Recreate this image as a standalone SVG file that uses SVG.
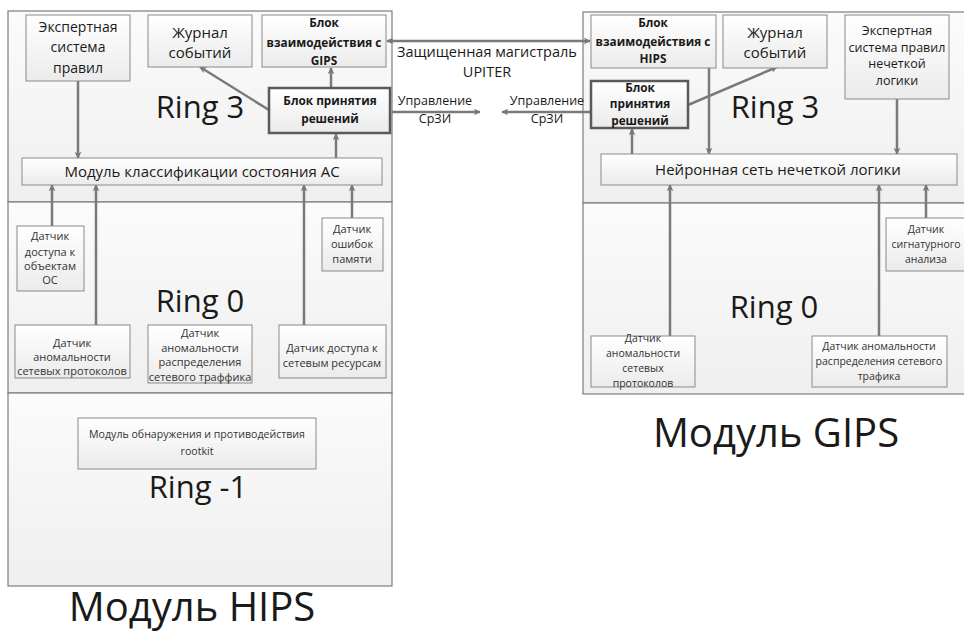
<svg xmlns="http://www.w3.org/2000/svg" width="964" height="633" viewBox="0 0 964 633">
<defs>
<linearGradient id="gBox" x1="0" y1="0" x2="0" y2="1"><stop offset="0" stop-color="#ffffff"/><stop offset="1" stop-color="#ebebeb"/></linearGradient>
<linearGradient id="gPanel" x1="0" y1="0" x2="0" y2="1"><stop offset="0" stop-color="#fbfbfb"/><stop offset="1" stop-color="#efefef"/></linearGradient>
<marker id="ah" viewBox="0 0 10 10" refX="9" refY="5" markerWidth="7" markerHeight="7" markerUnits="userSpaceOnUse" orient="auto-start-reverse"><path d="M0,0 L10,5 L0,10 L3,5 Z" fill="#777"/></marker>
<style>
.panel{fill:url(#gPanel);stroke:#7d7d7d;stroke-width:1.2}
.box{fill:url(#gBox);stroke:#8a8a8a;stroke-width:1}
.dec{fill:url(#gBox);stroke:#5a5a5a;stroke-width:2.5}
text{font-family:"Open Sans","DejaVu Sans",sans-serif;fill:#1a1a1a;text-anchor:middle}
.t16{font-size:15px}
.t15{font-size:14px}
.t14{font-size:12.5px}
.tb{font-size:11.8px;font-weight:bold}
.t12{font-size:11px;fill:#333}
.t11{font-size:10.5px;fill:#333}
.t10{font-size:10.6px;fill:#333}
.ring{font-size:31px}
.big{font-size:40px}
.lbl{font-size:14.5px}
.con{stroke:#7a7a7a;stroke-width:2.5;fill:none;marker-end:url(#ah)}
.bi{marker-start:url(#ah)}
</style>
</defs>

<g id="panels">
<rect class="panel" x="8" y="11" width="384" height="191"/>
<rect class="panel" x="8" y="202" width="384" height="191"/>
<rect class="panel" x="8" y="393" width="384" height="193"/>
<rect class="panel" x="583" y="12" width="385" height="191"/>
<rect class="panel" x="583" y="203" width="385" height="191"/>
<text class="ring" x="200" y="118">Ring 3</text>
<text class="ring" x="200" y="312">Ring 0</text>
<text class="ring" x="198" y="498">Ring -1</text>
<text class="ring" x="775" y="118">Ring 3</text>
<text class="ring" x="774" y="318">Ring 0</text>
<text class="big" x="192" y="621">Модуль HIPS</text>
<text class="big" x="776" y="447">Модуль GIPS</text>
</g>

<g id="connectors">
<line class="con" x1="78" y1="81" x2="78" y2="158"/>
<line class="con" x1="269" y1="110" x2="200" y2="67"/>
<line class="con" x1="331" y1="88" x2="331" y2="68"/>
<line class="con" x1="336" y1="158" x2="336" y2="134"/>
<line class="con" x1="52" y1="226" x2="52" y2="185"/>
<line class="con" x1="96" y1="325" x2="96" y2="185"/>
<line class="con" x1="304" y1="325" x2="304" y2="185"/>
<line class="con" x1="352" y1="218" x2="352" y2="185"/>
<line class="con bi" x1="387" y1="41" x2="590" y2="41"/>
<line class="con" x1="392" y1="112" x2="480" y2="112"/>
<line class="con" x1="591" y1="112" x2="502" y2="112"/>
<line class="con" x1="709" y1="68" x2="709" y2="154"/>
<line class="con" x1="688" y1="105" x2="777" y2="67"/>
<line class="con" x1="632" y1="154" x2="632" y2="129"/>
<line class="con" x1="897" y1="99" x2="897" y2="154"/>
<line class="con" x1="670" y1="336" x2="670" y2="185"/>
<line class="con" x1="879" y1="336" x2="879" y2="185"/>
<line class="con" x1="926" y1="218" x2="926" y2="185"/>
<text class="lbl" x="487" y="57">Защищенная магистраль</text>
<text class="lbl" x="487" y="77">UPITER</text>
<text class="t14" x="435" y="105">Управление</text>
<text class="t14" x="435" y="123">СрЗИ</text>
<text class="t14" x="547" y="105">Управление</text>
<text class="t14" x="547" y="123">СрЗИ</text>
</g>

<g id="h-expert">
<rect class="box" x="26" y="15" width="104" height="66"/>
<text class="t15" x="78" y="32">Экспертная</text>
<text class="t15" x="78" y="52">система</text>
<text class="t15" x="78" y="73">правил</text>
</g>
<g id="h-journal">
<rect class="box" x="148" y="15" width="104" height="52"/>
<text class="t16" x="200" y="38">Журнал</text>
<text class="t16" x="200" y="58">событий</text>
</g>
<g id="h-gips">
<rect class="box" x="262" y="15" width="124" height="52"/>
<text class="tb" x="324" y="27">Блок</text>
<text class="tb" x="324" y="47">взаимодействия с</text>
<text class="tb" x="324" y="65">GIPS</text>
</g>
<g id="h-decision">
<rect class="dec" x="269" y="88" width="121" height="45"/>
<text class="tb" x="330" y="105">Блок принятия</text>
<text class="tb" x="330" y="123">решений</text>
</g>
<g id="h-classify">
<rect class="box" x="22" y="158" width="360" height="27"/>
<text class="t16" x="202" y="177">Модуль классификации состояния АС</text>
</g>
<g id="h-s-os">
<rect class="box" x="17" y="226" width="67" height="65"/>
<text class="t12" x="50" y="240">Датчик</text>
<text class="t12" x="50" y="256">доступа к</text>
<text class="t12" x="50" y="270">объектам</text>
<text class="t12" x="50" y="284">ОС</text>
</g>
<g id="h-s-mem">
<rect class="box" x="322" y="218" width="61" height="53"/>
<text class="t12" x="352" y="233">Датчик</text>
<text class="t12" x="352" y="248">ошибок</text>
<text class="t12" x="352" y="263">памяти</text>
</g>
<g id="h-s-proto">
<rect class="box" x="15" y="325" width="115" height="53"/>
<text class="t12" x="72" y="347">Датчик</text>
<text class="t12" x="72" y="361">аномальности</text>
<text class="t12" x="72" y="375">сетевых протоколов</text>
</g>
<g id="h-s-traffic">
<rect class="box" x="148" y="325" width="104" height="58"/>
<text class="t12" x="200" y="337">Датчик</text>
<text class="t12" x="200" y="352">аномальности</text>
<text class="t12" x="200" y="366">распределения</text>
<text class="t12" x="200" y="381">сетевого траффика</text>
</g>
<g id="h-s-res">
<rect class="box" x="279" y="325" width="107" height="53"/>
<text class="t12" x="332" y="352">Датчик доступа к</text>
<text class="t12" x="332" y="367">сетевым ресурсам</text>
</g>
<g id="h-rootkit">
<rect class="box" x="78" y="418" width="238" height="51"/>
<text class="t10" x="197" y="438">Модуль обнаружения и противодействия</text>
<text class="t10" x="197" y="455">rootkit</text>
</g>

<g id="g-hips">
<rect class="box" x="591" y="15" width="125" height="53"/>
<text class="tb" x="653" y="27">Блок</text>
<text class="tb" x="653" y="46">взаимодействия с</text>
<text class="tb" x="653" y="63">HIPS</text>
</g>
<g id="g-journal">
<rect class="box" x="723" y="15" width="104" height="53"/>
<text class="t16" x="775" y="38">Журнал</text>
<text class="t16" x="775" y="58">событий</text>
</g>
<g id="g-expert">
<rect class="box" x="845" y="15" width="104" height="84"/>
<text class="t14" x="897" y="35">Экспертная</text>
<text class="t14" x="897" y="52">система правил</text>
<text class="t14" x="897" y="68">нечеткой</text>
<text class="t14" x="897" y="85">логики</text>
</g>
<g id="g-decision">
<rect class="dec" x="591" y="81" width="97" height="47"/>
<text class="tb" x="640" y="92">Блок</text>
<text class="tb" x="640" y="108">принятия</text>
<text class="tb" x="640" y="125">решений</text>
</g>
<g id="g-neural">
<rect class="box" x="601" y="154" width="356" height="31"/>
<text class="t16" x="778" y="175">Нейронная сеть нечеткой логики</text>
</g>
<g id="g-s-proto">
<rect class="box" x="591" y="336" width="104" height="51"/>
<text class="t11" x="643" y="342">Датчик</text>
<text class="t11" x="643" y="357">аномальности</text>
<text class="t11" x="643" y="372">сетевых</text>
<text class="t11" x="643" y="387">протоколов</text>
</g>
<g id="g-s-traffic">
<rect class="box" x="812" y="336" width="135" height="51"/>
<text class="t11" x="879" y="350">Датчик аномальности</text>
<text class="t11" x="879" y="365">распределения сетевого</text>
<text class="t11" x="879" y="380">трафика</text>
</g>
<g id="g-s-sig">
<rect class="box" x="886" y="218" width="82" height="53"/>
<text class="t11" x="926" y="233">Датчик</text>
<text class="t11" x="926" y="248">сигнатурного</text>
<text class="t11" x="926" y="263">анализа</text>
</g>
</svg>
